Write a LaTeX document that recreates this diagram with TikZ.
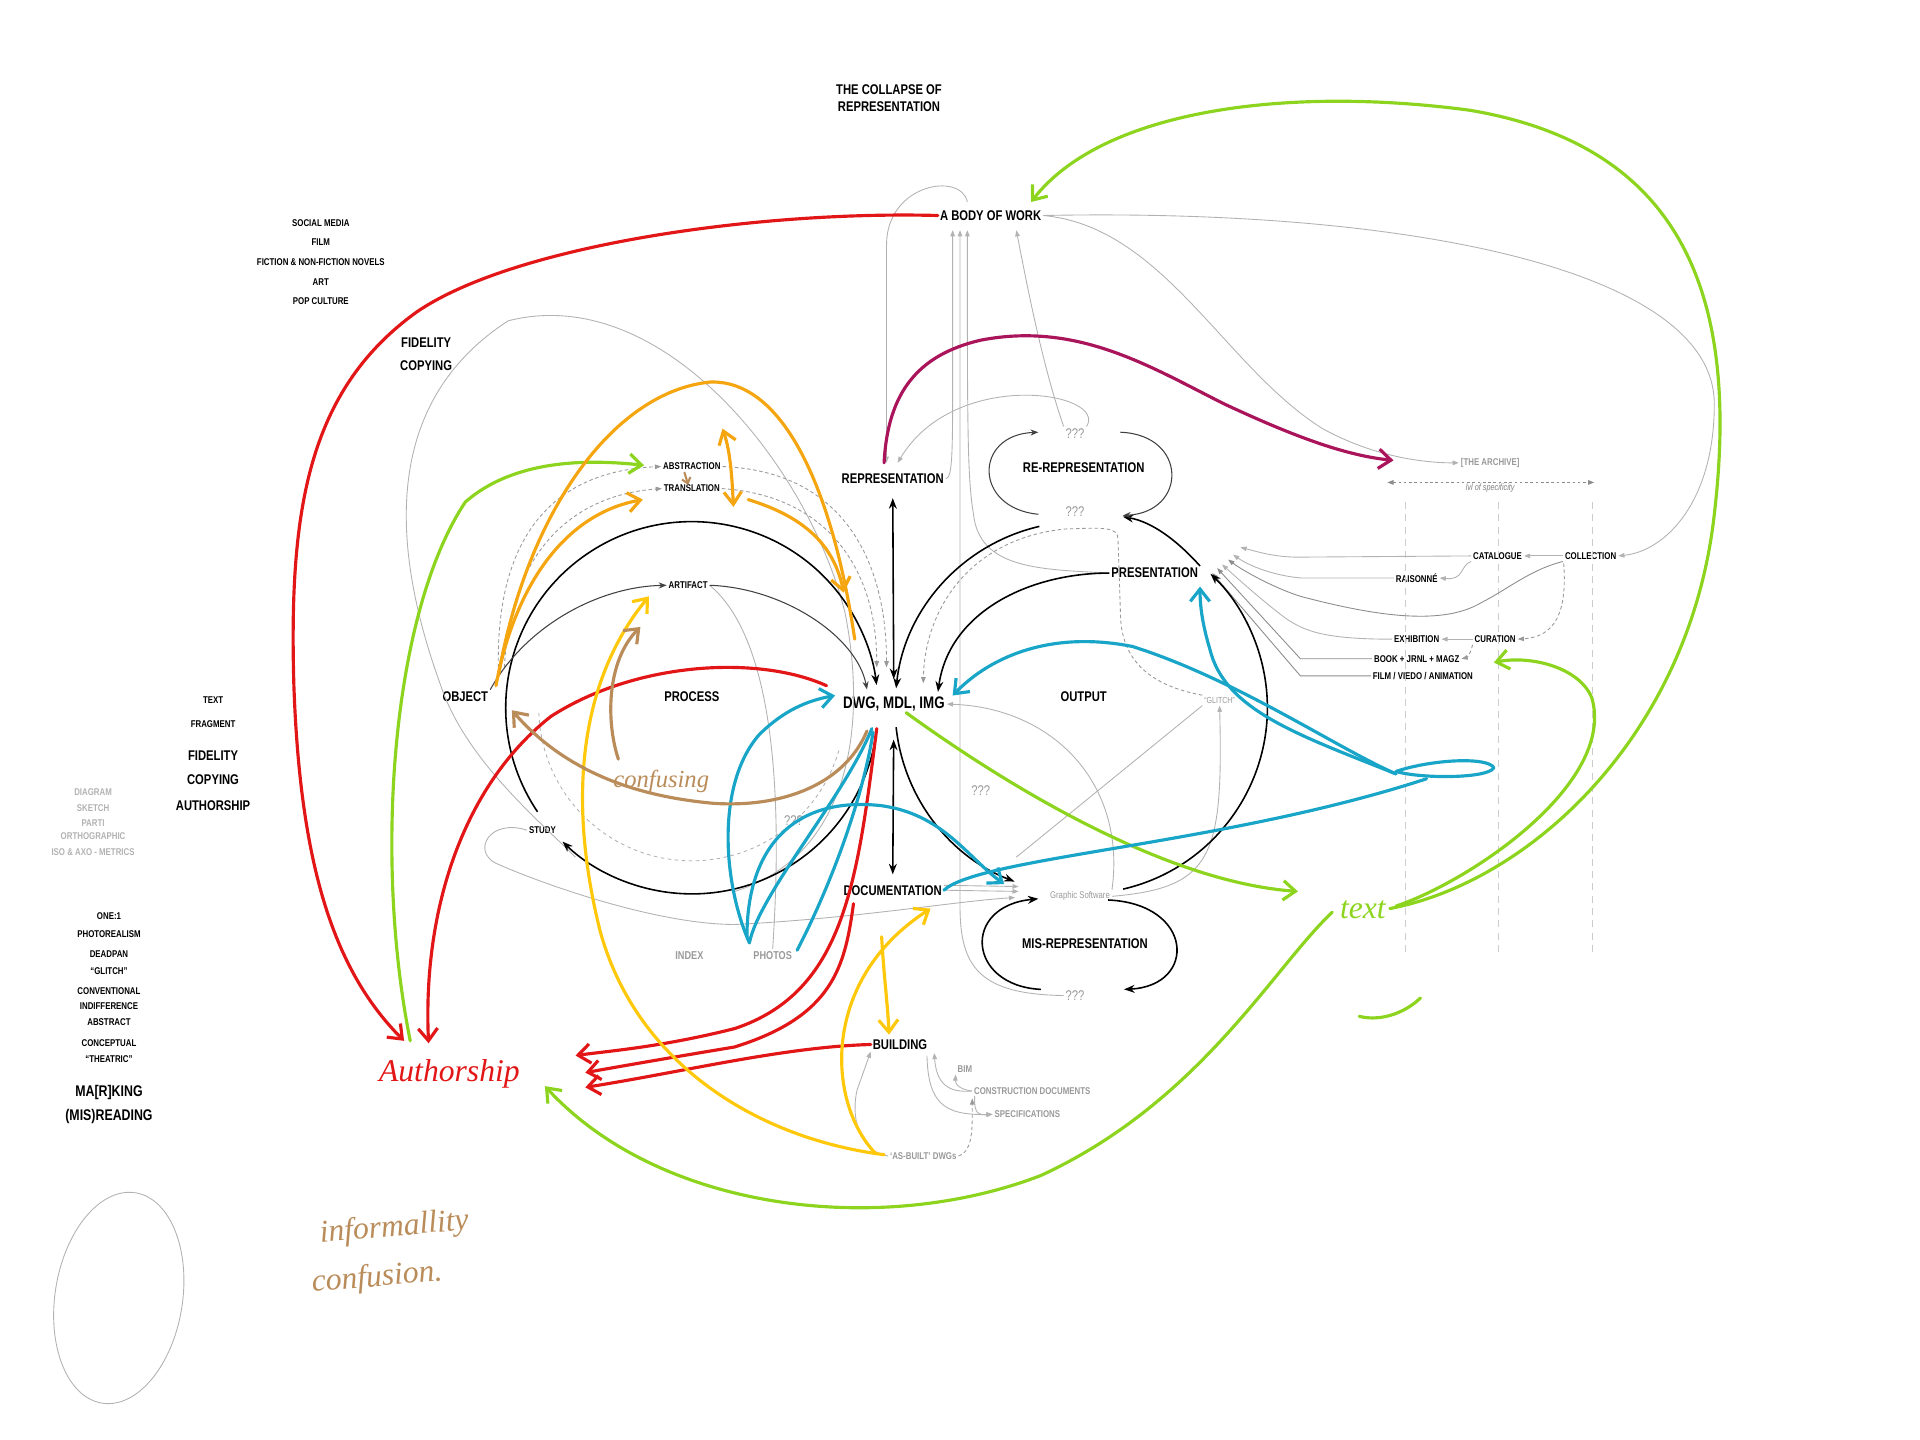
\documentclass[tikz,border=0pt]{standalone}
\usepackage{fontspec}
\setmainfont{Liberation Sans}
\newfontfamily\condfont[FakeStretch=0.8]{Liberation Sans}
\newfontfamily\handfont{Liberation Serif}
\usetikzlibrary{arrows.meta,positioning,calc,shapes.geometric}
\definecolor{hred}{RGB}{226,22,22}
\definecolor{hgreen}{RGB}{140,212,30}
\definecolor{horange}{RGB}{245,165,15}
\definecolor{hyellow}{RGB}{255,200,10}
\definecolor{hcyan}{RGB}{25,165,200}
\definecolor{hbrown}{RGB}{185,140,90}
\definecolor{hmagenta}{RGB}{170,20,90}

\begin{document}
\begin{tikzpicture}[x=0.02449cm, y=-0.02449cm, >=Stealth,
    lab/.style={font=\condfont\bfseries\fontsize{8}{9.7}\selectfont, inner sep=1pt},
    tag/.style={font=\condfont\bfseries\fontsize{5.6}{6.5}\selectfont, inner sep=1pt},
    gtag/.style={tag, text=black!40},
    qq/.style={font=\condfont\fontsize{8}{9}\selectfont, text=black!40, inner sep=1pt},
    hand/.style={font=\handfont\itshape\fontsize{18}{20}\selectfont, inner sep=0pt},
    lead/.style={line width=0.9pt, -{Stealth[length=6pt,width=4.5pt]}},
    sub/.style={black!75, line width=0.6pt, -{Stealth[length=4.5pt,width=3.5pt]}},
    dbl/.style={line width=0.9pt, {Stealth[length=6pt,width=4.5pt]}-{Stealth[length=6pt,width=4.5pt]}},
    faint/.style={black!30, line width=0.5pt},
    farrow/.style={faint, -{Triangle[length=3.5pt,width=2.6pt]}},
    gdash/.style={black!40, line width=0.5pt, dash pattern=on 2pt off 1.5pt, -{Triangle[length=3.5pt,width=2.6pt]}},
    pen/.style={line width=1.8pt, line cap=round, line join=round},
    tip/.style={-{Straight Barb[length=7pt,width=11pt]}}]
  \useasboundingbox (0,0) rectangle (1568,1176);
  % ---------------- text columns ----------------
  \node[lab, align=center] (title) at (726,80) {THE COLLAPSE OF\\REPRESENTATION};
  \node[lab] (body) at (809,176) {A BODY OF WORK};
  \foreach \t [count=\i] in {SOCIAL MEDIA, FILM, FICTION \& NON-FICTION NOVELS, ART, POP CULTURE}
    \node[tag] (media\i) at (262,166+16*\i) {\t};
  \node[lab] (fid1) at (348,280) {FIDELITY};
  \node[lab] (copy1) at (348,299) {COPYING};
  \node[tag] (text1) at (174,572) {TEXT};
  \node[tag] (frag) at (174,591) {FRAGMENT};
  \node[lab] (fid2) at (174,617) {FIDELITY};
  \node[lab] (copy2) at (174,637) {COPYING};
  \node[lab] (author) at (174,658) {AUTHORSHIP};
  \foreach \t/\y [count=\i] in {DIAGRAM/647, SKETCH/660, PARTI/672, ORTHOGRAPHIC/683, ISO \& AXO - METRICS/696}
    \node[gtag, text=black!30] (mode\i) at (76,\y) {\t};
  \foreach \t/\y [count=\i] in {ONE:1/748, PHOTOREALISM/763, DEADPAN/779, “GLITCH”/793, CONVENTIONAL/809,
      INDIFFERENCE/822, ABSTRACT/835, CONCEPTUAL/852, “THEATRIC”/865}
    \node[tag] (style\i) at (89,\y) {\t};
  \node[lab, font=\condfont\bfseries\fontsize{8.8}{10}\selectfont] (marking) at (89,892) {MA[R]KING};
  \node[lab, font=\condfont\bfseries\fontsize{8.8}{10}\selectfont] (misread) at (89,912) {(MIS)READING};
  % ---------------- core labels ----------------
  \node[tag] (abstr) at (565,381) {ABSTRACTION};
  \node[tag] (transl) at (565,399) {TRANSLATION};
  \node[lab] (rep) at (729,391) {REPRESENTATION};
  \node[lab] (rerep) at (885,382) {RE-REPRESENTATION};
  \node[qq] (rqtop) at (878,354) {???};
  \node[qq] (rqbot) at (878,418) {???};
  \node[tag] (artifact) at (562,478) {ARTIFACT};
  \node[lab] (present) at (943,468) {PRESENTATION};
  \node[lab] (object) at (380,569) {OBJECT};
  \node[lab] (process) at (565,569) {PROCESS};
  \node[lab, font=\condfont\bfseries\fontsize{9.5}{11}\selectfont] (dwg) at (730,575) {DWG, MDL, IMG};
  \node[lab] (output) at (885,569) {OUTPUT};
  \node[gtag, font=\condfont\fontsize{5}{6}\selectfont] (glitch) at (996,572) {“GLITCH”};
  \node[qq] (q1) at (801,646) {???};
  \node[qq] (q2) at (648,670) {???};
  \node[tag] (study) at (443,678) {STUDY};
  \node[lab] (docu) at (729,727) {DOCUMENTATION};
  \node[gtag, font=\condfont\fontsize{5.5}{6}\selectfont] (gsoft) at (882,732) {Graphic Software};
  \node[lab] (misrep) at (886,771) {MIS-REPRESENTATION};
  \node[qq] (mq) at (878,813) {???};
  \node[gtag, font=\condfont\bfseries\fontsize{6.5}{7}\selectfont] (index) at (563,780) {INDEX};
  \node[gtag, font=\condfont\bfseries\fontsize{6.5}{7}\selectfont] (photos) at (631,780) {PHOTOS};
  \node[lab] (building) at (735,853) {BUILDING};
  \node[gtag] (bim) at (788,873) {BIM};
  \node[gtag] (cdocs) at (843,891) {CONSTRUCTION DOCUMENTS};
  \node[gtag] (specs) at (839,910) {SPECIFICATIONS};
  \node[gtag] (asbuilt) at (754,944) {‘AS-BUILT’ DWGs};
  % ---------------- archive ----------------
  \node[gtag] (archive) at (1217,378) {[THE ARCHIVE]};
  \node[font=\condfont\itshape\fontsize{5.2}{6}\selectfont, text=black!50] (lvl) at (1217,399) {lvl of specificity};
  \node[tag] (catalogue) at (1223,454) {CATALOGUE};
  \node[tag] (collection) at (1299,454) {COLLECTION};
  \node[tag] (raisonne) at (1157,472) {RAISONNÉ};
  \node[tag] (exhibition) at (1157,522) {EXHIBITION};
  \node[tag] (curation) at (1221,522) {CURATION};
  \node[tag] (book) at (1157,538) {BOOK + JRNL + MAGZ};
  \node[tag] (filmvid) at (1162,552) {FILM / VIEDO / ANIMATION};
  \foreach \x in {1148,1224,1300}
    \draw[black!20, line width=0.4pt, dash pattern=on 4pt off 3pt] (\x,410) -- (\x,780);
  \draw[black!45, line width=0.5pt, dash pattern=on 1.5pt off 1.5pt,
        {Triangle[length=3.5pt,width=2.6pt]}-{Triangle[length=3.5pt,width=2.6pt]}] (1133,394) -- (1302,394);
  \draw[farrow] (collection) -- (catalogue);
  \draw[farrow] (curation) -- (exhibition);
  \draw[farrow] (catalogue.south west) .. controls (1192,462) and (1196,474) .. (raisonne.east);
  \draw[gdash] (1277,460) .. controls (1280,500) and (1270,520) .. (curation.east);
  \draw[gdash] (curation.south west) .. controls (1202,532) and (1198,537) .. (book.east);
  \draw[farrow] (catalogue.west) -- (1060,455) .. controls (1040,455) and (1025,450) .. (1013,447);
  \draw[farrow] (raisonne.west) -- (1062,472) .. controls (1040,470) and (1020,462) .. (1007,453);
  \draw[farrow, black!45] (collection.south west) .. controls (1250,465) and (1230,482) .. (1210,492)
       .. controls (1180,510) and (1130,505) .. (1062,487) .. controls (1040,480) and (1015,466) .. (1003,457);
  \draw[farrow] (exhibition.west) .. controls (1080,522) and (1065,515) .. (1050,505)
       .. controls (1030,490) and (1008,470) .. (998,461);
  \draw[farrow, black!45] (book.west) -- (1062,538) -- (994,464);
  \draw[farrow, black!45] (filmvid.west) -- (1062,552) -- (990,468);
  % ---------------- grey links ----------------
  \draw[farrow] (body.east) .. controls (1150,170) and (1400,220) .. (1400,330)
       .. controls (1400,410) and (1360,450) .. (collection.east);
  \draw[farrow] (body.east) .. controls (950,185) and (1000,300) .. (1080,350)
       .. controls (1120,372) and (1160,378) .. (archive.west);
  \draw[farrow] (790,165) .. controls (785,140) and (724,150) .. (724,200) -- (724,378);
  \draw[farrow] (rqtop.north east) .. controls (905,320) and (780,300) .. (733,378);
  \draw[farrow] (rep.east) .. controls (778,390) and (778,370) .. (778,300) -- (778,188);
  \draw[farrow] (mq.west) .. controls (800,812) and (784,790) .. (784,740) -- (784,188);
  \draw[farrow] (present.west) .. controls (850,465) and (800,465) .. (795,420)
       .. controls (790,390) and (790,350) .. (790,188);
  \draw[farrow] (rqtop.north west) .. controls (852,300) and (840,240) .. (830,188);
  \draw[faint] (470,700) .. controls (440,670) and (380,620) .. (360,560) .. controls (320,450) and (310,330) .. (415,262)
       .. controls (540,230) and (660,380) .. (690,500) .. controls (710,600) and (690,700) .. (600,728);
  \draw[faint] (artifact.east) .. controls (630,520) and (640,640) .. (photos.north);
  \draw[gdash] (407,545) .. controls (405,440) and (450,385) .. (abstr.west);
  \draw[gdash] (412,545) .. controls (415,460) and (460,405) .. (transl.west);
  \draw[gdash] (abstr.east) .. controls (690,385) and (724,460) .. (724,545);
  \draw[gdash] (transl.east) .. controls (680,405) and (716,470) .. (716,545);
  \draw[black!30, line width=0.5pt, dash pattern=on 2pt off 2pt] (565,578) ++(178:125) arc[start angle=178, end angle=15, radius=125];
  \draw[gdash] (glitch.north west) .. controls (940,560) and (915,540) .. (915,500) -- (913,440)
       .. controls (913,430) and (900,431) .. (870,432) .. controls (790,440) and (755,500) .. (754,558);
  \draw[farrow] (gsoft.north east) .. controls (920,640) and (860,578) .. (dwg.east);
  \draw[faint] (glitch.south west) -- (830,700);
  \draw[farrow] (gsoft.east) .. controls (990,725) and (999,700) .. (glitch.south);
  \foreach \dy in {-4,0} \draw[farrow] ($(docu.east)+(0,\dy)$) -- ($(gsoft.west)+(-24,\dy-4)$);
  \draw[farrow] (study.west) .. controls (400,668) and (385,695) .. (405,705) .. controls (450,725) and (540,755) .. (600,755)
       .. controls (700,750) and (780,736) .. (829,733);
  \draw[farrow] (asbuilt.west) .. controls (700,940) and (695,910) .. (700,890) -- (building.south west);
  \draw[farrow] (cdocs.west) .. controls (780,892) and (765,890) .. (763,860);
  \draw[farrow] (cdocs.west) .. controls (785,890) and (780,886) .. (bim.south west);
  \draw[farrow] (757,862) .. controls (758,900) and (770,911) .. (specs.west);
  \draw[farrow] (796,895) .. controls (795,910) and (800,911) .. (specs.west);
  \draw[gdash] (asbuilt.east) .. controls (795,940) and (794,920) .. (794,897);
  \node[draw=black!30, line width=0.5pt, ellipse, minimum width=2.55cm, minimum height=4.26cm, rotate=-9] (blob) at (97,1060) {};
  % ---------------- black cycles ----------------
  \draw[lead] (565,578) ++(146:152) arc[start angle=146, end angle=353, radius=152];
  \draw[lead] (565,578) ++(8:152) arc[start angle=8, end angle=134, radius=152];
  \draw[lead] (883,578) ++(257:152) arc[start angle=257, end angle=186, radius=152];
  \draw[lead] (883,578) ++(77:152) arc[start angle=77, end angle=-46, radius=152];
  \draw[lead] (883,578) ++(174:152) arc[start angle=174, end angle=111, radius=152];
  \draw[lead] (present.west) .. controls (840,468) and (775,500) .. (766,565);
  \draw[lead] (present.north east) .. controls (960,440) and (940,426) .. (917,422);
  \draw[sub] (848,420) .. controls (795,415) and (795,355) .. (848,353);
  \draw[sub] (915,353) .. controls (970,355) and (970,418) .. (917,421);
  \draw[lead] (850,808) .. controls (790,805) and (785,740) .. (848,734);
  \draw[lead] (905,735) .. controls (975,738) and (978,805) .. (918,808);
  \draw[dbl, shorten <=7pt, shorten >=9pt] (rep) -- (dwg);
  \draw[dbl, shorten <=15pt, shorten >=5pt] (dwg) -- (docu);
  \draw[sub] (object.north east) .. controls (430,510) and (490,479) .. (artifact.west);
  \draw[sub] (artifact.east) .. controls (640,480) and (700,520) .. (708,563);
  % ---------------- marker strokes ----------------
  \draw[pen, hmagenta, tip] (722,378) .. controls (725,320) and (750,290) .. (800,278)
       .. controls (880,262) and (940,300) .. (1000,330) .. controls (1060,358) and (1100,372) .. (1138,376);
  \draw[pen, hred, tip] (body.west) .. controls (620,172) and (420,200) .. (340,255)
       .. controls (250,320) and (236,420) .. (240,560) .. controls (245,700) and (270,790) .. (330,850);
  \draw[pen, hred, tip] (675,560) .. controls (620,535) and (520,540) .. (450,585)
       .. controls (380,640) and (345,740) .. (350,852);
  \draw[pen, hred, tip] (716,595) .. controls (700,720) and (690,810) .. (600,840) .. controls (540,855) and (500,858) .. (470,862);
  \draw[pen, hred, tip] (697,738) .. controls (690,790) and (680,830) .. (600,855) .. controls (540,865) and (500,872) .. (478,876);
  \draw[pen, hred, tip] (building.west) .. controls (640,855) and (560,875) .. (478,888);
  \draw[pen, hgreen, tip] (1135,742) .. controls (1250,720) and (1380,600) .. (1400,420)
       .. controls (1420,250) and (1380,120) .. (1200,90) .. controls (1050,70) and (900,90) .. (842,165);
  \draw[pen, hgreen, tip] (1140,740) .. controls (1200,720) and (1320,640) .. (1300,570)
       .. controls (1290,545) and (1250,535) .. (1220,541);
  \draw[pen, hgreen, tip] (1088,745) .. controls (1040,790) and (980,900) .. (850,960)
       .. controls (720,1010) and (540,990) .. (445,887);
  \draw[pen, hgreen, tip] (740,582) .. controls (820,640) and (950,720) .. (1060,728);
  \draw[pen, hgreen, tip] (335,850) .. controls (305,700) and (320,500) .. (380,410)
       .. controls (420,375) and (480,375) .. (526,380);
  \draw[pen, hgreen] (1110,830) .. controls (1130,835) and (1150,825) .. (1160,815);
  \draw[pen, horange] (407,552) .. controls (430,420) and (500,320) .. (580,312)
       .. controls (640,310) and (680,400) .. (698,522);
  \draw[pen, horange, tip] (405,560) .. controls (420,480) and (460,420) .. (525,408);
  \draw[pen, horange, {Straight Barb[length=7pt,width=10pt]}-{Straight Barb[length=7pt,width=10pt]}]
       (590,350) .. controls (597,370) and (598,395) .. (599,414);
  \draw[pen, horange, tip] (611,408) .. controls (650,420) and (680,440) .. (689,484);
  \draw[pen, hyellow, tip] (722,943) .. controls (620,930) and (520,870) .. (490,760)
       .. controls (465,660) and (470,560) .. (530,487);
  \draw[pen, hyellow, tip] (715,942) .. controls (675,900) and (670,800) .. (760,742);
  \draw[pen, hyellow, tip] (720,765) .. controls (722,800) and (725,820) .. (726,845);
  \draw[pen, hcyan, tip] (1140,632) .. controls (1090,610) and (1010,555) .. (925,528)
       .. controls (860,515) and (810,535) .. (778,568);
  \draw[pen, hcyan, tip] (1140,632) .. controls (1060,600) and (1000,580) .. (988,530)
       .. controls (982,510) and (980,495) .. (980,479);
  \draw[pen, hcyan] (1140,630) .. controls (1170,620) and (1215,618) .. (1220,627)
       .. controls (1215,636) and (1160,636) .. (1140,630);
  \draw[pen, hcyan] (docu.east) .. controls (800,700) and (1000,690) .. (1165,636);
  \draw[pen, hcyan, tip] (612,770) .. controls (590,720) and (585,640) .. (620,600)
       .. controls (640,580) and (660,572) .. (682,568);
  \draw[pen, hcyan] (612,770) .. controls (620,730) and (690,650) .. (712,595);
  \draw[pen, hcyan] (651,776) .. controls (680,720) and (705,650) .. (713,598);
  \draw[pen, hcyan, tip] (610,765) .. controls (610,690) and (650,650) .. (720,658)
       .. controls (770,665) and (790,700) .. (820,722);
  \draw[pen, hbrown, tip] (708,597) .. controls (690,640) and (640,660) .. (582,656)
       .. controls (540,652) and (470,640) .. (418,580);
  \draw[pen, hbrown, tip] (505,620) .. controls (495,590) and (495,540) .. (523,512);
  \draw[pen, hbrown, line width=1.2pt, -{Straight Barb[length=3pt,width=5pt]}] (559,386) -- (562,396);
  % ---------------- handwriting ----------------
  \node[hand, text=hred] (authhand) at (367,877) {Authorship};
  \node[hand, text=hbrown, font=\handfont\itshape\fontsize{14}{16}\selectfont] (confusing) at (540,638) {confusing};
  \node[hand, text=hbrown, rotate=5] (informal) at (322,1003) {informallity};
  \node[hand, text=hbrown, rotate=5] (confusion) at (308,1044) {confusion.};
  \node[hand, text=hgreen] (txt) at (1113,743) {text};
\end{tikzpicture}
\end{document}
